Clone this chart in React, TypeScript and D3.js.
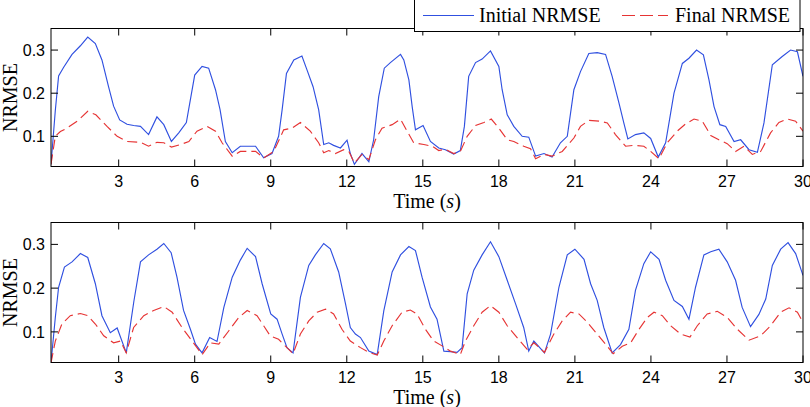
import React from "react";
import * as d3 from "d3";

type P = [number, number];

const xTicks = [3, 6, 9, 12, 15, 18, 21, 24, 27, 30];
const yTicks = [0.1, 0.2, 0.3];
const xDomain: [number, number] = [0.33, 30];
const yDomain: [number, number] = [0.03, 0.35];
const seriesNames = ["Initial NRMSE", "Final NRMSE"];

const topInitial: P[] = [
  [0.33,0.035],[0.5,0.16],[0.63,0.24],[0.83,0.26],[1.16,0.29],[1.49,0.31],[1.78,0.33],[2.08,0.315],[2.34,0.277],[2.6,0.215],[2.8,0.17],[3.04,0.138],[3.33,0.128],[3.59,0.125],[3.86,0.123],[4.18,0.104],[4.51,0.145],[4.78,0.127],[5.08,0.088],[5.37,0.108],[5.67,0.132],[6.0,0.242],[6.29,0.262],[6.55,0.258],[6.82,0.208],[7.0,0.162],[7.21,0.088],[7.48,0.062],[7.8,0.077],[8.4,0.077],[8.72,0.05],
  [9.05,0.06],[9.31,0.1],[9.45,0.162],[9.62,0.246],[9.91,0.277],[10.23,0.286],[10.43,0.254],[10.67,0.215],[10.89,0.162],[11.09,0.081],[11.29,0.085],[11.48,0.079],[11.75,0.073],[12.01,0.091],[12.14,0.06],[12.3,0.035],[12.6,0.06],[12.87,0.041],[13.06,0.092],[13.26,0.192],[13.48,0.258],[13.72,0.271],[14.12,0.29],[14.25,0.277],[14.45,0.231],[14.58,0.169],[14.71,0.115],[15.01,0.125],[15.3,0.088],[15.63,0.073],[15.89,0.069],[16.22,0.059],[16.48,0.067],[16.64,0.123],[16.81,0.239],[17.08,0.271],[17.34,0.279],[17.67,0.298],[18.0,0.262],[18.13,0.208],[18.33,0.15],[18.59,0.123],[18.92,0.1],[19.18,0.098],
  [19.45,0.054],[19.78,0.06],[20.1,0.052],[20.43,0.085],[20.7,0.1],[20.96,0.208],[21.22,0.25],[21.55,0.292],[21.88,0.294],[22.21,0.29],[22.47,0.239],[22.74,0.177],[22.93,0.131],[23.09,0.094],[23.39,0.104],[23.72,0.108],[23.99,0.095],[24.29,0.052],[24.58,0.085],[24.91,0.2],[25.24,0.269],[25.5,0.281],[25.8,0.3],[26.07,0.289],[26.29,0.231],[26.49,0.169],[26.72,0.127],[26.95,0.123],[27.28,0.088],[27.54,0.092],[27.87,0.069],[28.2,0.063],[28.46,0.131],[28.79,0.266],[29.18,0.285],[29.51,0.3],[29.78,0.296],[30,0.239],
];

const topFinal: P[] = [
  [0.33,0.035],[0.5,0.1],[0.7,0.111],[0.96,0.119],[1.36,0.135],[1.78,0.158],[2.1,0.15],[2.54,0.123],[2.94,0.1],[3.33,0.088],[3.86,0.086],[4.18,0.077],[4.51,0.086],[4.78,0.085],[5.08,0.075],[5.44,0.081],[5.77,0.088],[6.09,0.112],[6.49,0.123],[6.82,0.112],[7.08,0.085],[7.48,0.054],[7.8,0.065],[8.4,0.065],[8.72,0.05],[9.12,0.065],[9.51,0.115],[9.84,0.119],[10.17,0.132],[10.56,0.112],[10.89,0.085],[11.09,0.062],[11.29,0.067],[11.55,0.06],[11.88,0.069],[12.08,0.065],[12.3,0.038],[12.6,0.058],[12.87,0.046],[13.13,0.092],[13.39,0.119],[13.79,0.127],[14.12,0.14],[14.38,0.112],[14.64,0.085],[15.04,0.081],[15.37,0.077],[15.63,0.067],[15.89,0.07],[16.22,0.06],[16.48,0.065],[16.75,0.1],[17.08,0.125],[17.41,0.132],[17.7,0.14],[18.0,0.119],[18.33,0.092],[18.59,0.088],[18.98,0.077],[19.25,0.071],[19.45,0.048],[19.78,0.058],[20.1,0.054],[20.5,0.065],[20.96,0.096],[21.22,0.123],[21.55,0.137],[22.01,0.135],[22.28,0.131],[22.6,0.104],[23.0,0.077],[23.33,0.079],[23.72,0.077],[23.99,0.065],[24.32,0.048],[24.64,0.085],[25.04,0.112],[25.37,0.129],[25.7,0.14],[26.03,0.135],[26.36,0.102],[26.68,0.092],[27.01,0.083],[27.34,0.065],[27.67,0.077],[28.0,0.058],[28.33,0.065],[28.72,0.108],[29.05,0.132],[29.38,0.14],[29.71,0.135],[30,0.112],
];

const bottomInitial: P[] = [
  [0.33,0.029],[0.5,0.133],[0.63,0.202],[0.86,0.248],[1.16,0.26],[1.49,0.279],[1.78,0.27],[2.08,0.21],[2.34,0.137],[2.67,0.098],[2.94,0.109],[3.3,0.052],[3.6,0.17],[3.86,0.26],[4.18,0.276],[4.51,0.289],[4.78,0.302],[5.07,0.281],[5.3,0.225],[5.56,0.149],[5.83,0.106],[6.03,0.072],[6.29,0.052],[6.59,0.087],[6.88,0.078],[7.15,0.156],[7.48,0.225],[7.8,0.264],[8.07,0.291],[8.4,0.272],[8.66,0.21],[9.0,0.141],
  [9.25,0.129],[9.45,0.095],[9.64,0.064],[9.88,0.052],[10.17,0.179],[10.5,0.252],[10.76,0.276],[11.09,0.302],[11.35,0.29],[11.68,0.237],[11.95,0.164],[12.14,0.11],[12.34,0.095],[12.54,0.087],[12.87,0.056],[13.2,0.048],[13.46,0.148],[13.79,0.237],[14.12,0.276],[14.45,0.295],[14.71,0.286],[14.97,0.225],[15.3,0.157],[15.56,0.129],[15.83,0.056],[16.09,0.055],[16.35,0.053],[16.55,0.064],[16.75,0.187],[17.01,0.241],[17.34,0.276],[17.67,0.306],[18.0,0.272],[18.33,0.218],[18.66,0.164],[18.98,0.11],[19.18,0.056],[19.38,0.079],
  [19.8,0.052],[20.04,0.095],[20.37,0.202],[20.7,0.276],[21.0,0.289],[21.36,0.266],[21.62,0.21],[21.88,0.172],[22.14,0.11],[22.47,0.052],[22.8,0.071],[23.13,0.106],[23.39,0.195],[23.72,0.256],[23.99,0.283],[24.32,0.266],[24.58,0.218],[24.91,0.172],[25.24,0.158],[25.5,0.129],[25.76,0.202],[26.09,0.276],[26.36,0.283],[26.68,0.289],[27.01,0.26],[27.34,0.218],[27.6,0.156],[27.93,0.112],[28.26,0.14],[28.53,0.175],[28.79,0.252],[29.12,0.289],[29.41,0.304],[29.71,0.279],[30,0.229],
];

const bottomFinal: P[] = [
  [0.33,0.029],[0.5,0.079],[0.76,0.118],[1.09,0.137],[1.49,0.142],[1.78,0.137],[2.08,0.118],[2.41,0.091],[2.8,0.075],[3.07,0.079],[3.3,0.052],[3.59,0.11],[3.99,0.137],[4.38,0.149],[4.78,0.158],[5.11,0.145],[5.5,0.11],[5.9,0.079],[6.29,0.048],[6.62,0.075],[6.95,0.072],[7.34,0.102],[7.74,0.133],[8.07,0.149],[8.46,0.137],[8.72,0.114],[8.98,0.091],[9.31,0.083],[9.64,0.064],[9.88,0.05],[10.17,0.095],[10.5,0.125],[10.83,0.145],[11.16,0.152],[11.48,0.141],[11.81,0.106],[12.14,0.079],[12.54,0.064],[12.87,0.053],[13.2,0.047],[13.46,0.079],[13.79,0.114],[14.18,0.145],[14.51,0.15],[14.77,0.141],[15.1,0.106],[15.43,0.079],[15.76,0.068],[16.09,0.056],[16.48,0.048],[16.68,0.079],[17.01,0.114],[17.34,0.145],[17.67,0.16],[18.0,0.145],[18.33,0.114],[18.72,0.087],[19.12,0.06],[19.38,0.075],[19.64,0.062],[19.8,0.053],[20.17,0.095],[20.5,0.125],[20.83,0.145],[21.16,0.141],[21.49,0.122],[21.88,0.095],[22.21,0.072],[22.51,0.05],[22.87,0.067],[23.2,0.075],[23.53,0.106],[23.86,0.133],[24.12,0.145],[24.45,0.137],[24.78,0.114],[25.17,0.095],[25.54,0.088],[25.83,0.114],[26.22,0.141],[26.62,0.147],[27.01,0.133],[27.41,0.106],[27.87,0.081],[28.33,0.091],[28.72,0.114],[29.12,0.145],[29.45,0.155],[29.78,0.145],[30,0.122],
];

const W = 810;
const H = 407;
const left = 51;
const right = 803;
const BLUE = "#3050e0";
const RED = "#e63434";
const SANS = "'Liberation Sans', Arial, sans-serif";
const SERIF = "'Liberation Serif', 'Times New Roman', serif";

function Panel({ top, bottom, initial, final, id }: { top: number; bottom: number; initial: P[]; final: P[]; id: string }) {
  const x = d3.scaleLinear().domain(xDomain).range([left, right]);
  const y = d3.scaleLinear().domain(yDomain).range([bottom, top]);
  const line = d3.line<P>().x((d) => x(d[0])).y((d) => y(d[1]));
  const tl = 7;
  return (
    <g>
      <defs>
        <clipPath id={id}>
          <rect x={left} y={top} width={right - left} height={bottom - top} />
        </clipPath>
      </defs>
      <rect x={left} y={top} width={right - left} height={bottom - top} fill="#fff" />
      <g clipPath={`url(#${id})`}>
        <path d={line(initial) || ""} fill="none" stroke={BLUE} strokeWidth={1.15} />
        <path d={line(final) || ""} fill="none" stroke={RED} strokeWidth={1.15} strokeDasharray="10,5" />
      </g>
      {xTicks.map((t) => (
        <g key={"x" + t}>
          <line x1={x(t)} x2={x(t)} y1={bottom} y2={bottom - tl} stroke="#000" />
          <line x1={x(t)} x2={x(t)} y1={top} y2={top + tl} stroke="#000" />
          <text x={x(t)} y={bottom + 20} textAnchor="middle" fontFamily={SANS} fontSize={16} fill="#000">
            {t}
          </text>
        </g>
      ))}
      {yTicks.map((v) => (
        <g key={"y" + v}>
          <line x1={left} x2={left + tl} y1={y(v)} y2={y(v)} stroke="#000" />
          <line x1={right} x2={right - tl} y1={y(v)} y2={y(v)} stroke="#000" />
          <text x={left - 6} y={y(v)} dy="0.36em" textAnchor="end" fontFamily={SANS} fontSize={16} fill="#000">
            {d3.format(".1f")(v)}
          </text>
        </g>
      ))}
      <rect x={left} y={top} width={right - left} height={bottom - top} fill="none" stroke="#000" strokeWidth={1} />
      <text x={(left + right) / 2} y={bottom + 41} textAnchor="middle" fontFamily={SERIF} fontSize={20} fill="#000">
        Time (<tspan fontStyle="italic">s</tspan>)
      </text>
      <text
        transform={`translate(17,${(top + bottom) / 2}) rotate(-90)`}
        textAnchor="middle"
        fontFamily={SERIF}
        fontSize={20}
        fill="#000"
      >
        NRMSE
      </text>
    </g>
  );
}

export default function App() {
  return (
    <div style={{ position: "absolute", left: 0, top: 0 }}>
      <svg width={W} height={H} style={{ display: "block", background: "#fff" }}>
        <rect x={0} y={0} width={W} height={H} fill="#fff" />
        <Panel top={28.5} bottom={166.5} initial={topInitial} final={topFinal} id="clipTop" />
        <Panel top={222.5} bottom={362.5} initial={bottomInitial} final={bottomFinal} id="clipBottom" />
        <g>
          <rect x={414.5} y={-1} width={385.5} height={32.5} fill="#fff" stroke="#000" strokeWidth={1} />
          <line x1={423} x2={474} y1={15.5} y2={15.5} stroke={BLUE} strokeWidth={1.15} />
          <text x={479} y={22} fontFamily={SERIF} fontSize={20} fill="#000">
            {seriesNames[0]}
          </text>
          <line x1={622} x2={668} y1={15.5} y2={15.5} stroke={RED} strokeWidth={1.15} strokeDasharray="13,5" />
          <text x={675} y={22} fontFamily={SERIF} fontSize={20} fill="#000">
            {seriesNames[1]}
          </text>
        </g>
      </svg>
    </div>
  );
}
